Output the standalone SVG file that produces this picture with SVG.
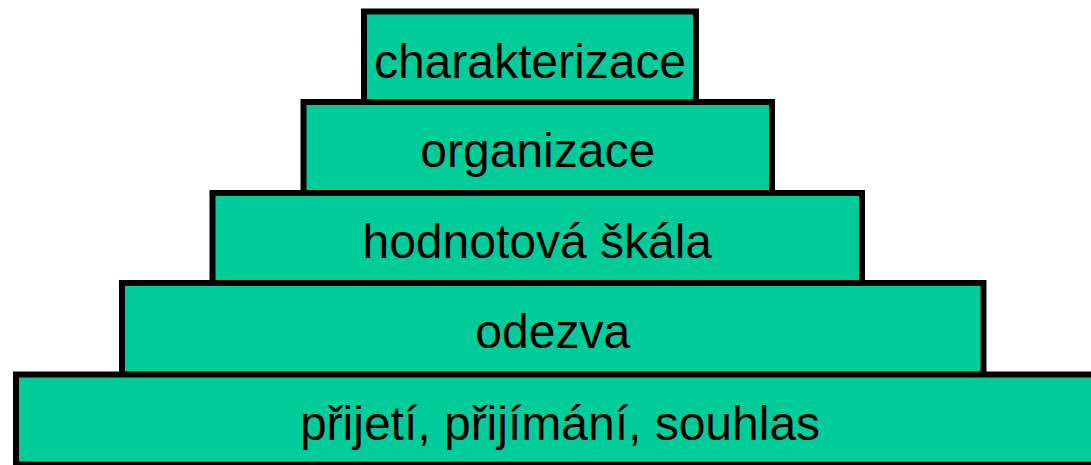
<svg xmlns="http://www.w3.org/2000/svg" width="1091" height="465" viewBox="0 0 1091 465">
<style>
.box{fill:#00cc99;stroke:#000;stroke-width:6}
.lbl{font-family:"Liberation Sans",Arial,sans-serif;font-size:48px;fill:#000;text-anchor:middle}
</style>
<rect width="1091" height="465" fill="#fff"/>
<g id="node-charakterizace"><rect class="box" x="364" y="11.5" width="332" height="90.5"/><text class="lbl" x="530" y="78">charakterizace</text></g>
<g id="node-organizace"><rect class="box" x="303.5" y="102" width="468.5" height="91"/><text class="lbl" x="537.75" y="167">organizace</text></g>
<g id="node-hodnotova"><rect class="box" x="212.5" y="193" width="649.5" height="90"/><text class="lbl" x="537.25" y="258">hodnotová škála</text></g>
<g id="node-odezva"><rect class="box" x="122" y="283" width="861.5" height="91.5"/><text class="lbl" x="552.75" y="348">odezva</text></g>
<g id="node-prijeti"><rect class="box" x="16" y="374.5" width="1088" height="90"/><text class="lbl" x="560" y="440">přijetí, přijímání, souhlas</text></g>
<g id="connectors"></g>
</svg>
